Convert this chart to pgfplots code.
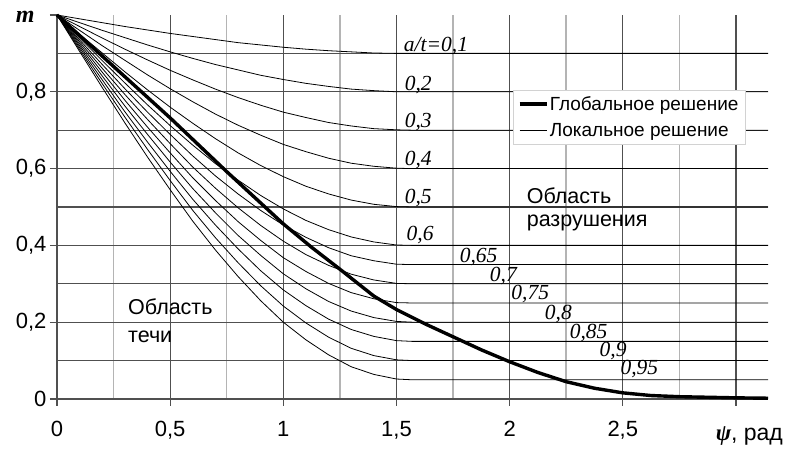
\documentclass[border=0pt]{standalone}
\usepackage{pgfplots}
\pgfplotsset{compat=1.18}
\usepackage{pgfplotstable}
\usepackage{fontspec}
\setmainfont{Liberation Sans}
\newfontfamily\serif{Liberation Serif}
\definecolor{gridc}{HTML}{505050}
\definecolor{gridl}{HTML}{B4B4B4}
\pgfplotsset{long legend/.style={legend image code/.code={\draw[##1] (0pt,0pt) -- (27pt,0pt);}}}

% local solutions, one column per a/t
\pgfplotstableread{
psi    k01   k02   k03   k04   k05   k06   k065  k07   k075  k08   k085  k09   k095
0.0    1.000 1.000 1.000 1.000 1.000 1.000 1.000 1.000 1.000 1.000 1.000 1.000 1.000
0.1    0.990 0.980 0.970 0.960 0.950 0.940 0.935 0.930 0.925 0.920 0.915 0.910 0.905
0.2    0.980 0.960 0.940 0.920 0.901 0.881 0.871 0.861 0.851 0.841 0.831 0.821 0.811
0.3    0.970 0.941 0.911 0.882 0.852 0.823 0.808 0.793 0.778 0.763 0.748 0.734 0.719
0.4    0.961 0.922 0.883 0.844 0.805 0.766 0.747 0.728 0.708 0.689 0.669 0.650 0.630
0.5    0.952 0.904 0.856 0.808 0.760 0.712 0.689 0.665 0.641 0.617 0.593 0.569 0.545
0.6    0.944 0.887 0.831 0.774 0.718 0.661 0.633 0.604 0.576 0.548 0.520 0.491 0.463
0.7    0.936 0.871 0.807 0.742 0.678 0.613 0.581 0.549 0.517 0.485 0.453 0.420 0.388
0.8    0.928 0.857 0.785 0.713 0.641 0.570 0.534 0.498 0.462 0.426 0.391 0.355 0.319
0.9    0.922 0.843 0.765 0.687 0.608 0.530 0.491 0.452 0.413 0.374 0.334 0.295 0.256
1.0    0.916 0.832 0.747 0.663 0.579 0.495 0.453 0.411 0.368 0.326 0.284 0.242 0.200
1.1    0.911 0.822 0.733 0.644 0.554 0.465 0.421 0.376 0.332 0.287 0.243 0.198 0.154
1.2    0.907 0.814 0.720 0.627 0.534 0.441 0.394 0.348 0.301 0.254 0.208 0.161 0.115
1.3    0.904 0.807 0.711 0.614 0.518 0.422 0.373 0.325 0.277 0.229 0.181 0.132 0.084
1.4    0.901 0.803 0.704 0.606 0.507 0.409 0.360 0.310 0.261 0.212 0.163 0.113 0.064
1.5    0.900 0.800 0.701 0.601 0.501 0.401 0.351 0.301 0.251 0.202 0.152 0.102 0.052
1.5708 0.900 0.800 0.700 0.600 0.500 0.400 0.350 0.300 0.250 0.200 0.150 0.100 0.050
3.1416 0.900 0.800 0.700 0.600 0.500 0.400 0.350 0.300 0.250 0.200 0.150 0.100 0.050
}\loc

% global solution
\pgfplotstableread{
psi    m
0.0    1.000
0.25   0.866
0.5    0.732
0.75   0.592
1.0    0.456
1.125  0.395
1.25   0.338
1.4    0.268
1.5    0.233
1.625  0.196
1.75   0.162
1.875  0.128
2.0    0.097
2.125  0.069
2.25   0.045
2.375  0.028
2.5    0.016
2.625  0.009
2.75   0.006
3.0    0.003
3.1416 0.002
}\glob

\begin{document}
\begin{tikzpicture}
\path[use as bounding box] (-57pt,-50pt) rectangle (730pt,399pt);
\begin{axis}[
  at={(0,0)}, anchor=south west,
  scale only axis, width=711pt, height=384pt,
  xmin=0, xmax=3.1416, ymin=0, ymax=1,
  clip=false,
  axis lines*=left,
  axis line style={gridc, line width=1.2pt},
  tick style={gridc, line width=1.2pt},
  tick align=outside,
  major tick length=7pt, minor tick length=0pt,
  xtick={0,0.5,1,1.5,2,2.5,3},
  xticklabels={0,{0,5},1,{1,5},2,{2,5},{}},
  minor xtick={0.25,0.75,1.25,1.75,2.25,2.75},
  ytick={0,0.2,0.4,0.6,0.8},
  yticklabels={0,{0,2},{0,4},{0,6},{0,8}},
  minor ytick={0.1,0.3,0.5,0.7,0.9},
  extra y ticks={1}, extra y tick labels={},
  extra y tick style={grid=none},
  grid=both,
  major grid style={gridc, line width=1.2pt},
  minor y grid style={gridc, line width=1.2pt},
  minor x grid style={gridl, line width=1.5pt},
  tick label style={font=\fontsize{22}{26}\selectfont},
  xticklabel style={yshift=-12pt},
  legend style={at={(axis cs:2.013,0.805)}, anchor=north west,
    draw=gray!35, fill=white, font=\fontsize{19}{22}\selectfont,
    inner xsep=5pt, inner ysep=4.5pt, row sep=7pt,
    nodes={inner xsep=1.5pt}, cells={anchor=west}},
]
\addlegendimage{black, line width=3.6pt, long legend}
\addlegendentry{Глобальное решение}
\addlegendimage{black, line width=0.9pt, long legend}
\addlegendentry{Локальное решение}

\foreach \c in {k01,k02,k03,k04,k05,k06,k065,k07,k075,k08,k085,k09,k095}{
  \addplot[black, line width=0.8pt, forget plot] table[x=psi, y=\c] {\loc};
}
\addplot[black, line width=3.4pt, forget plot] table[x=psi, y=m] {\glob};

\begin{scope}[every node/.style={anchor=base west, inner sep=0pt,
    font=\serif\itshape\fontsize{21.5}{25}\selectfont}]
\node at (axis cs:1.532,0.904) {a/t=0,1};
\node at (axis cs:1.536,0.803) {0,2};
\node at (axis cs:1.536,0.707) {0,3};
\node at (axis cs:1.536,0.608) {0,4};
\node at (axis cs:1.536,0.508) {0,5};
\node at (axis cs:1.544,0.414) {0,6};
\node at (axis cs:1.779,0.356) {0,65};
\node at (axis cs:1.912,0.3055) {0,7};
\node at (axis cs:2.007,0.258) {0,75};
\node at (axis cs:2.155,0.206) {0,8};
\node at (axis cs:2.265,0.158) {0,85};
\node at (axis cs:2.397,0.110) {0,9};
\node at (axis cs:2.489,0.0625) {0,95};
\end{scope}

\begin{scope}[every node/.style={anchor=base west, inner sep=0pt,
    font=\fontsize{21.5}{25}\selectfont}]
\node at (axis cs:2.075,0.5104) {Область};
\node at (axis cs:2.075,0.448) {разрушения};
\node at (axis cs:0.3135,0.219) {Область};
\node at (axis cs:0.3135,0.146) {течи};
\node[font=\fontsize{23}{27}\selectfont] at (axis cs:2.91,-0.109) {{\serif\bfseries\itshape ψ}, рад};
\end{scope}
\node[font=\serif\bfseries\itshape\fontsize{24}{28}\selectfont] at (axis cs:-0.141,0.995) {m};
\end{axis}
\end{tikzpicture}
\end{document}
